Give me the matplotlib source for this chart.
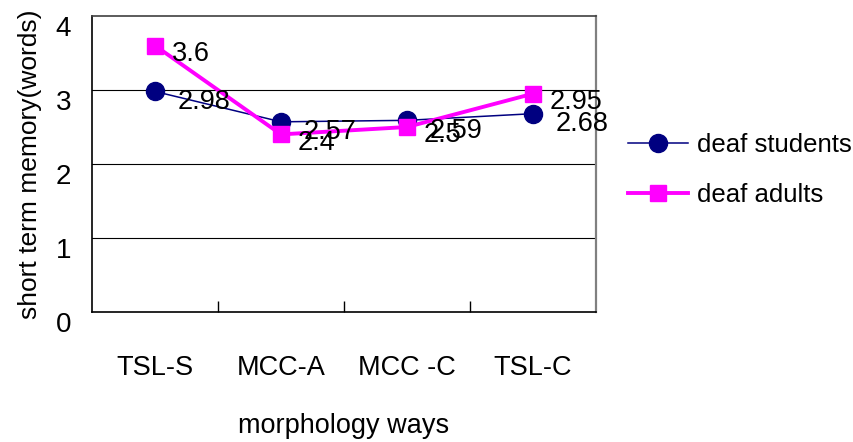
import matplotlib
matplotlib.use("Agg")
import matplotlib.pyplot as plt
from matplotlib.ticker import FixedLocator
from matplotlib.transforms import ScaledTranslation

categories = ["TSL-S", "MCC-A", "MCC -C", "TSL-C"]
students = [2.98, 2.57, 2.59, 2.68]
adults = [3.6, 2.4, 2.5, 2.95]
yticks = [0, 1, 2, 3, 4]

plt.rcParams['font.family'] = ['Liberation Sans', 'DejaVu Sans']

fig = plt.figure(figsize=(8.54, 4.42), dpi=100)
ax = fig.add_axes([92/854, 1-312/442, (596-92)/854, (312-16)/442])

x = list(range(len(categories)))
ax.plot(x, students, color='#000080', lw=1.1, marker='o', ms=13,
        mfc='#000080', mec='#000080', label='deaf students', zorder=3)
ax.plot(x, adults, color='#FF00FF', lw=2.8, marker='s', ms=12,
        mfc='#FF00FF', mec='#FF00FF', label='deaf adults', zorder=4)

for xi, v in zip(x, students):
    ax.annotate(f"{v:g}", (xi, v), xytext=(16.5, -7.5), textcoords='offset points',
                fontsize=19.5, ha='left', va='center', zorder=5)
for xi, v in zip(x, adults):
    ax.annotate(f"{v:g}", (xi, v), xytext=(12, -6), textcoords='offset points',
                fontsize=19.5, ha='left', va='center', zorder=5)

ax.set_xlim(-0.5, 3.5)
ax.set_ylim(0, 4)
ax.set_yticks(yticks)
ax.set_yticklabels([str(t) for t in yticks], fontsize=20)
ax.tick_params(axis='y', length=0, pad=15)
shift = ScaledTranslation(0, -9.5/100, fig.dpi_scale_trans)
for lab in ax.get_yticklabels():
    lab.set_transform(lab.get_transform() + shift)
ax.set_xticks(x)
ax.set_xticklabels(categories, fontsize=19.5)
ax.tick_params(axis='x', which='major', length=0, pad=31)
ax.xaxis.set_minor_locator(FixedLocator([0.5, 1.5, 2.5]))
ax.tick_params(axis='x', which='minor', direction='in', length=8, width=1, color='black')
for yv in [1, 2, 3]:
    ax.axhline(yv, color='black', lw=0.8, zorder=1)

ax.spines['left'].set_color('black')
ax.spines['bottom'].set_color('black')
ax.spines['top'].set_color('#404040')
ax.spines['right'].set_color('#808080')
for s in ax.spines.values():
    s.set_linewidth(1.2)
ax.spines['right'].set_linewidth(1.6)

ax.set_ylabel("short term memory(words)", fontsize=19, labelpad=10)
ax.set_xlabel("morphology ways", fontsize=19.5, labelpad=23)

leg = fig.legend(loc='upper left', bbox_to_anchor=(628/854, 1-133/442), frameon=False,
                 fontsize=18.5, handlelength=2.33, handletextpad=0.35, labelspacing=1.0,
                 borderpad=0, borderaxespad=0)

fig.savefig("out.png", dpi=100)
